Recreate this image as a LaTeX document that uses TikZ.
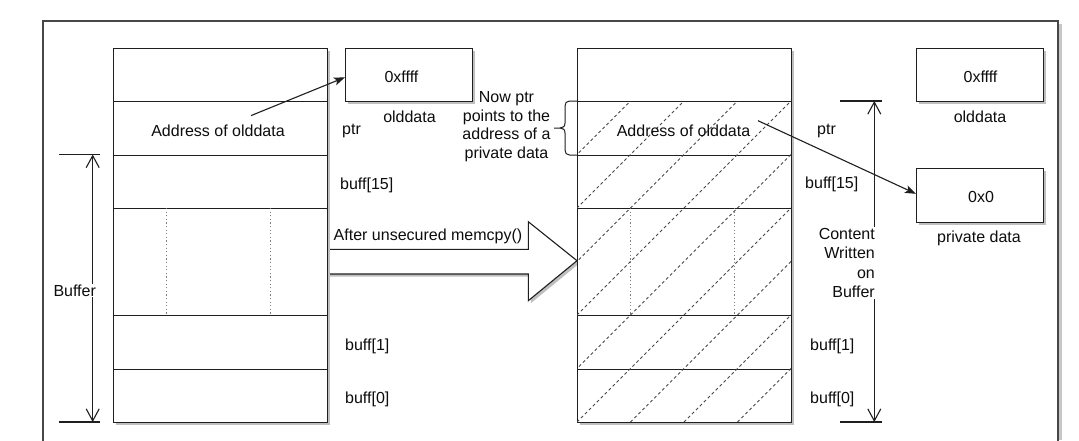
\documentclass[tikz,border=0pt]{standalone}
\usepackage{fontspec}
\setmainfont{Liberation Sans}
\usetikzlibrary{arrows.meta,shadows}
\begin{document}
\begin{tikzpicture}[x=1pt,y=-1pt,
  txt/.style={font=\fontsize{16}{19}\selectfont, text=black!95, inner sep=0pt},
  boxshadow/.style={drop shadow={shadow xshift=2.5pt, shadow yshift=-2.5pt, fill=black!25, opacity=1}},
  cell/.style={draw=black!88, line width=1.1pt, fill=white, anchor=north west,
    minimum width=214pt, minimum height=53.5pt, inner sep=0pt, boxshadow},
  tallcell/.style={cell, minimum height=107pt},
  valbox/.style={draw=black!88, line width=1.1pt, fill=white, anchor=north west,
    minimum width=126.5pt, minimum height=53.5pt, inner sep=0pt, boxshadow},
  hatchline/.style={draw=black!72, line width=0.95pt, dash pattern=on 3pt off 2.6pt},
  colsep/.style={draw=black!50, line width=0.8pt, dash pattern=on 1.2pt off 2.4pt},
  dimline/.style={draw=black!88, line width=1.1pt,
    {Straight Barb[length=12pt,width=13pt]}-{Straight Barb[length=12pt,width=13pt]}},
  tickline/.style={draw=black!88, line width=1.1pt},
  ptrarrow/.style={draw=black!88, line width=1.1pt, -{Stealth[length=11pt,width=8pt,inset=2.5pt]}},
  outline/.style={draw=black!88, line width=1.1pt},
]
% page and frame
\fill[white] (0,0) rectangle (1079,440);
\useasboundingbox (0,0) rectangle (1079,440);
\fill[black!22] (1058.5,24) rectangle (1061.5,440);
\draw[draw=black!72, line width=1.4pt] (43,441) -- (43,21) -- (1058,21) -- (1058,441);

% block arrow between the two stacks
\fill[black!25, xshift=2.5pt, yshift=-2.5pt]
  (327,249.3) -- (528.3,249.3) -- (528.3,221.7) -- (577,260.7) -- (528.3,300.7) -- (528.3,274) -- (327,274) -- cycle;
\draw[outline, fill=white, line join=miter]
  (327,249.3) -- (528.3,249.3) -- (528.3,221.7) -- (577,260.7) -- (528.3,300.7) -- (528.3,274) -- (327,274);

% stack before the copy
\node[cell] (L1) at (113,47.5) {};
\node[cell] (L2) at (113,101) {};
\node[cell] (L3) at (113,154.5) {};
\node[tallcell] (L4) at (113,208) {};
\node[cell] (L5) at (113,315) {};
\node[cell] (L6) at (113,368.5) {};
\draw[colsep] (166.5,208) -- (166.5,315);
\draw[colsep] (270.5,208) -- (270.5,315);

% stack after the copy
\node[cell] (R1) at (577,47.5) {};
\node[cell] (R2) at (577,101) {};
\node[cell] (R3) at (577,154.5) {};
\node[tallcell] (R4) at (577,208) {};
\node[cell] (R5) at (577,315) {};
\node[cell] (R6) at (577,368.5) {};
\draw[colsep] (630.5,208) -- (630.5,315);
\draw[colsep] (734.5,208) -- (734.5,315);
\begin{scope}
  \clip (577,101) rectangle (791,422);
  \foreach \k in {-6,...,4}
    \draw[hatchline] ({577+53.5*\k},422) -- ++(321,-321);
\end{scope}

% value boxes
\node[valbox] (oldA) at (345,47.7) {};
\node[valbox] (oldB) at (916,47.7) {};
\node[valbox] (priv) at (916,168.3) {};
\node[txt] (oldAval) at (401.5,76.5) {0xffff};
\node[txt] (oldBval) at (980.5,76.5) {0xffff};
\node[txt] (privval) at (981,197) {0x0};
\node[txt] (oldAlbl) at (409.5,116.5) {olddata};
\node[txt] (oldBlbl) at (980,117) {olddata};
\node[txt] (privlbl) at (979,238.5) {private data};

% cell contents and names
\node[txt] (addrL) at (218,130.5) {Address of olddata};
\node[txt] (addrR) at (683.5,130.5) {Address of olddata};
\node[txt, anchor=west] (ptrLlbl) at (342,130.5) {ptr};
\node[txt, anchor=west] (b15L) at (340,185) {buff[15]};
\node[txt, anchor=west] (b1L) at (345,346) {buff[1]};
\node[txt, anchor=west] (b0L) at (345,399.5) {buff[0]};
\node[txt, anchor=west] (ptrRlbl) at (817,130.5) {ptr};
\node[txt, anchor=west] (b15R) at (805,184.5) {buff[15]};
\node[txt, anchor=west] (b1R) at (810,346) {buff[1]};
\node[txt, anchor=west] (b0R) at (810,399.5) {buff[0]};
\node[txt] (copylbl) at (428,236.5) {After unsecured memcpy()};

% size of the buffer
\coordinate (bufTop) at (92.7,154.5);
\coordinate (bufBot) at (92.7,422);
\draw[tickline] (59,154.5) -- (100,154.5);
\draw[tickline] (59,422) -- (100,422);
\draw[dimline] (bufTop) -- (bufBot);
\node[txt, fill=white, inner sep=1pt] (buflbl) at (74.7,290.5) {Buffer};

% extent of the overwritten content
\coordinate (cwTop) at (874.3,101);
\coordinate (cwBot) at (874.3,422);
\draw[tickline] (840,101) -- (882,101);
\draw[tickline] (840,422) -- (882,422);
\draw[dimline] (cwTop) -- (cwBot);
\node[txt, font=\fontsize{16}{19.3}\selectfont, fill=white, inner sep=1pt, align=right, anchor=east]
  (cwlbl) at (876,263) {Content\\Written\\on\\Buffer};

% note with brace
\node[txt, font=\fontsize{16}{18.6}\selectfont, align=center] (note) at (506.5,126.5)
  {Now ptr\\points to the\\address of a\\private data};
\draw[outline, line width=1pt]
  (577,101) -- (569.5,101) .. controls (566.5,101) and (565,103) .. (565,106)
  -- (565,123) .. controls (565,126.5) and (563,128) .. (560,128) -- (554,128)
  (560,128) .. controls (563,128) and (565,129.5) .. (565,133)
  -- (565,150) .. controls (565,153) and (566.5,155) .. (569.5,155) -- (577,155);

% pointers
\coordinate (ptrL) at (251,115.6);
\coordinate (ptrR) at (758,120.7);
\draw[ptrarrow] (ptrL) -- ([yshift=-2.3pt]oldA.west);
\draw[ptrarrow] (ptrR) -- ([yshift=1.8pt]priv.west);
\end{tikzpicture}
\end{document}
